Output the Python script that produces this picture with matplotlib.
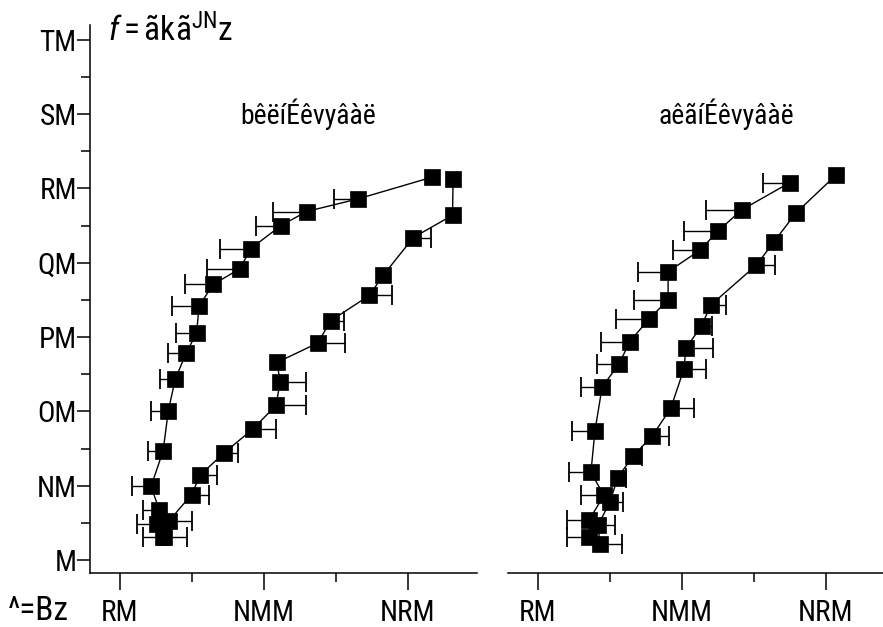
import numpy as np
import matplotlib
matplotlib.use("Agg")
import matplotlib.pyplot as plt
from matplotlib import font_manager as fm
from matplotlib.ticker import FixedLocator

# ---- data -------------------------------------------------------------
# left panel, rising branch (error bars to the left)
l_up_x = [65.0, 63.1, 63.8, 60.9, 65.1, 66.9, 69.3, 73.0, 76.7, 77.6, 82.5,
          91.8, 95.5, 106.0, 114.9, 132.8, 158.3]
l_up_y = [3.1, 4.8, 6.7, 9.9, 14.7, 20.1, 24.3, 27.8, 30.5, 34.2, 37.1,
          39.2, 41.9, 45.0, 46.9, 48.6, 51.5]
l_up_err = [7.0, 7.2, 5.6, 6.7, 5.2, 6.1, 5.3, 6.1, 7.2, 9.3, 9.8,
            11.5, 10.6, 8.8, 11.6, 8.3, 0.0]

# left panel, returning branch (error bars to the right)
l_dn_x = [165.8, 165.6, 152.0, 141.5, 136.7, 123.3, 118.8, 104.7, 105.7,
          104.3, 96.2, 86.2, 77.9, 75.0, 67.2, 65.4]
l_dn_y = [51.3, 46.4, 43.4, 38.3, 35.6, 32.2, 29.2, 26.6, 23.9,
          20.8, 17.6, 14.4, 11.4, 8.8, 5.3, 3.1]
l_dn_err = [0.0, 0.0, 6.0, 0.0, 7.9, 4.6, 9.5, 0.0, 9.0,
            10.4, 8.1, 4.8, 6.0, 6.1, 7.8, 7.9]

# right panel, rising branch
r_up_x = [67.9, 67.9, 73.0, 68.5, 69.9, 72.4, 78.3, 82.0, 88.8, 95.3, 95.3,
          106.4, 112.7, 120.8, 137.6]
r_up_y = [3.1, 5.4, 8.7, 11.8, 17.4, 23.3, 26.4, 29.4, 32.5, 35.0, 38.8,
          41.7, 44.3, 47.1, 50.8]
r_up_err = [7.6, 7.6, 8.0, 7.6, 8.0, 7.5, 7.8, 10.1, 11.6, 11.9, 10.4,
            9.3, 11.9, 12.4, 9.5]

# right panel, returning branch
r_dn_x = [153.6, 139.7, 132.0, 126.0, 110.1, 106.9, 101.5, 100.8, 96.2,
          89.8, 83.2, 77.8, 75.1, 71.0, 71.6]
r_dn_y = [51.8, 46.7, 42.8, 39.7, 34.3, 31.5, 28.5, 25.7, 20.4,
          16.7, 14.0, 11.1, 7.8, 4.7, 2.2]
r_dn_err = [0.0, 0.0, 0.0, 6.4, 5.2, 3.7, 9.3, 7.7, 8.1,
            5.8, 2.9, 2.9, 4.4, 5.8, 7.6]

x_ticks = [50, 100, 150]
x_ticklabels = ["RM", "NMM", "NRM"]
y_ticks = [0, 10, 20, 30, 40, 50, 60, 70]
y_ticklabels = ["M", "NM", "OM", "PM", "QM", "RM", "SM", "TM"]
panel_titles = ["bêëíÉêvyâàë", "aêãíÉêvyâàë"]

# ---- fonts: prefer a narrow sans face ---------------------------------
_fonts = fm.fontManager.ttflist
_names = {f.name for f in _fonts}
FAMILY, STRETCH = "Liberation Sans", "normal"
for cand in ("Liberation Sans Narrow", "Roboto Condensed",
             "Open Sans Condensed", "Noto Sans Condensed"):
    if cand in _names:
        FAMILY = cand
        break
else:
    for f in _fonts:
        if f.name in ("DejaVu Sans", "Noto Sans", "Open Sans", "Roboto") and \
                str(f.stretch) in ("condensed", "semi-condensed", "75", "87", "62"):
            FAMILY, STRETCH = f.name, f.stretch
            break

plt.rcParams["font.family"] = [FAMILY, "DejaVu Sans"]
plt.rcParams["font.stretch"] = STRETCH
plt.rcParams["mathtext.fontset"] = "custom"
plt.rcParams["mathtext.rm"] = FAMILY
plt.rcParams["mathtext.it"] = FAMILY + ":italic"

W, H = 883, 627
fig = plt.figure(figsize=(W / 100, H / 100), dpi=100)

XLIM = (39.7, 174.1)
YLIM = (-1.75, 72.0)
ax_w = 387 / W
ax_b = (H - 573) / H
ax_h = (H - 25) / H - ax_b

axL = fig.add_axes([90 / W, ax_b, ax_w, ax_h])
axR = fig.add_axes([508 / W, ax_b, ax_w, ax_h])

LW = 1.1
TICK_FS = 21


def branch(ax, xs, ys, errs, side):
    xs = np.asarray(xs); ys = np.asarray(ys); errs = np.asarray(errs)
    m = errs > 0
    zeros = np.zeros(m.sum())
    xerr = [errs[m], zeros] if side == "left" else [zeros, errs[m]]
    eb = ax.errorbar(xs[m], ys[m], xerr=xerr, fmt="none", ecolor="black",
                     elinewidth=1.0, capsize=7, capthick=1.3, zorder=2)
    caps = eb.lines[1]
    # hide the caps sitting at the marker centre
    if len(caps) == 2:
        caps[1 if side == "left" else 0].set_visible(False)
    ax.plot(xs, ys, "-", color="black", lw=1.0, marker="s", ms=11,
            mfc="black", mec="black", mew=0.5, zorder=3, clip_on=False)


branch(axL, l_up_x, l_up_y, l_up_err, "left")
branch(axL, l_dn_x, l_dn_y, l_dn_err, "right")
branch(axR, r_up_x, r_up_y, r_up_err, "left")
branch(axR, r_dn_x, r_dn_y, r_dn_err, "right")

for i, ax in enumerate((axL, axR)):
    ax.set_xlim(*XLIM)
    ax.set_ylim(*YLIM)
    for s in ("top", "right"):
        ax.spines[s].set_visible(False)
    for s in ("left", "bottom"):
        ax.spines[s].set_linewidth(LW)
    ax.set_xticks(x_ticks)
    ax.set_xticklabels(x_ticklabels, fontsize=TICK_FS)
    ax.xaxis.set_minor_locator(FixedLocator([75, 125]))
    ax.tick_params(axis="x", which="major", direction="out", length=12.5,
                   width=LW, pad=6)
    ax.tick_params(axis="x", which="minor", direction="out", length=6.5,
                   width=LW)
    ax.text(115.5, 60.0, panel_titles[i], fontsize=20, ha="center",
            va="center")
    ax.patch.set_alpha(0)

axL.set_yticks(y_ticks)
axL.set_yticklabels(y_ticklabels, fontsize=TICK_FS)
axL.yaxis.set_minor_locator(FixedLocator(np.arange(5, 70, 10)))
axL.tick_params(axis="y", which="major", direction="out", length=9.5,
                width=LW, pad=0)
axL.tick_params(axis="y", which="minor", direction="out", length=6.5,
                width=LW)

axR.spines["left"].set_visible(False)
axR.set_yticks([])
axR.tick_params(axis="y", which="both", left=False, labelleft=False)

# axis names
fig.text(108 / W, (H - 31) / H,
         r"$\mathit{f}\mathrm{=ãkã}^{\mathrm{JN}}\mathrm{z}$",
         fontsize=24, ha="left", va="center")
fig.text(8 / W, (H - 611) / H, "^=Bz", fontsize=24, ha="left",
         va="center")

fig.savefig("out.png", dpi=100)
